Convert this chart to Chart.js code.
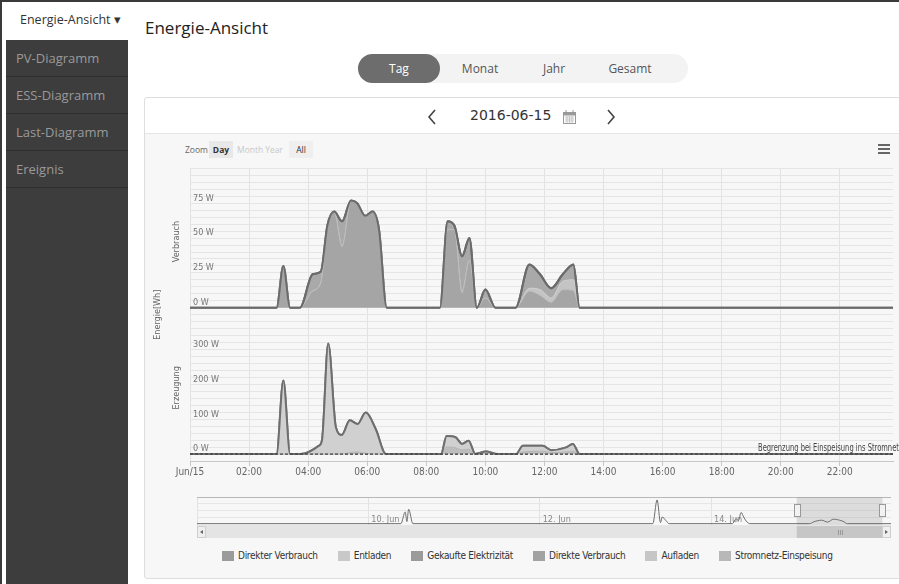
<!DOCTYPE html>
<html lang="de">
<head>
<meta charset="utf-8">
<title>Energie-Ansicht</title>
<script src="https://cdn.jsdelivr.net/npm/chart.js@4.4.1/dist/chart.umd.min.js"></script>
<style>
  html, body { margin: 0; padding: 0; }
  body { width: 899px; height: 584px; overflow: hidden; position: relative; background: #fff;
         font-family: "Open Sans", "Noto Sans", sans-serif; }
  .rahmen { position: absolute; left: 0; top: 0; width: 899px; height: 584px; box-sizing: border-box;
            border-left: 2px solid #3a3a3a; border-top: 2px solid #3a3a3a; pointer-events: none; z-index: 9; }
  .seitenleiste { position: absolute; left: 6px; top: 0; width: 122px; height: 584px; background: #3d3d3d; }
  .seitenleiste .kopf { height: 40px; background: #fff; color: #333; font-size: 12.5px; line-height: 40px; padding-left: 14px; }
  .seitenleiste .punkt { height: 36px; line-height: 36px; color: #9a9a9a; font-size: 13px; padding-left: 10px;
                         border-bottom: 1px solid #2e2e2e; }
  h1 { position: absolute; left: 145px; top: 16px; margin: 0; font-weight: normal; font-size: 17px; color: #222; }
  .reiter { position: absolute; left: 358px; top: 54px; width: 330px; height: 29px; background: #f3f3f3; border-radius: 15px; }
  .reiter span { position: absolute; top: 0; line-height: 29px; font-size: 12px; color: #555; transform: translateX(-50%); }
  .reiter span.aktiv { left: 0; width: 82px; background: #6d6d6d; color: #fff; border-radius: 15px; text-align: center; transform: none; }
  .karte { position: absolute; left: 144px; top: 97px; width: 770px; height: 480px; border: 1px solid #dedede;
           border-radius: 3px; background: #f7f7f7; }
  .karte .kopf { height: 35px; background: #fff; border-bottom: 1px solid #e6e6e6; border-radius: 3px 3px 0 0; }
  .datum { position: absolute; left: 470px; top: 107px; font-size: 14px; color: #333; font-family: "DejaVu Sans", sans-serif; }
  .pfeil { position: absolute; top: 109px; }
  .zoom { position: absolute; top: 141px; height: 17px; line-height: 17px; font-size: 8.5px; color: #666; text-align: center; white-space: nowrap; }
  .zoom.knopf { background: #e8e8e8; color: #333; font-weight: bold; }
  .zoom.blass { color: #c8c8c8; }
  .zoom.alle { background: #efefef; color: #333; }
  .menue { position: absolute; left: 878px; top: 144px; width: 12px; }
  .menue i { display: block; height: 2px; background: #666; margin-bottom: 2px; }
  .haupt { position: absolute; left: 150px; top: 160px; width: 749px; height: 318px; }
  .navi { position: absolute; left: 197px; top: 497px; width: 694px; height: 41px; }
  .legende { position: absolute; left: 222px; top: 550px; display: flex; font-size: 10px; color: #333; white-space: nowrap; letter-spacing: -0.3px; }
  .legende div { display: flex; align-items: center; margin-right: 20px; }
  .legende b { display: inline-block; width: 12px; height: 10px; margin-right: 4px; }
</style>
</head>
<body>
<div class="rahmen"></div>
<div class="seitenleiste">
  <div class="kopf">Energie-Ansicht &#9662;</div>
  <div class="punkt">PV-Diagramm</div>
  <div class="punkt">ESS-Diagramm</div>
  <div class="punkt">Last-Diagramm</div>
  <div class="punkt">Ereignis</div>
</div>
<h1>Energie-Ansicht</h1>
<div class="reiter">
  <span class="aktiv">Tag</span>
  <span style="left:122px">Monat</span>
  <span style="left:196px">Jahr</span>
  <span style="left:272px">Gesamt</span>
</div>
<div class="karte"><div class="kopf"></div></div>
<svg class="pfeil" style="left:427px" width="10" height="16"><polyline points="8,1 2,8 8,15" fill="none" stroke="#444" stroke-width="1.6"/></svg>
<div class="datum">2016-06-15</div>
<svg class="pfeil" style="left:563px;top:110px" width="13" height="14">
  <rect x="0.5" y="2.5" width="12" height="11" fill="#fff" stroke="#999"/>
  <rect x="0.5" y="2.5" width="12" height="3" fill="#999"/>
  <line x1="3" y1="0" x2="3" y2="3" stroke="#999"/><line x1="10" y1="0" x2="10" y2="3" stroke="#999"/>
  <path d="M2 7h9M2 9h9M2 11h9M4 6v7M6.5 6v7M9 6v7" stroke="#bbb" stroke-width="0.8"/>
</svg>
<svg class="pfeil" style="left:606px" width="10" height="16"><polyline points="2,1 8,8 2,15" fill="none" stroke="#444" stroke-width="1.6"/></svg>

<div class="zoom" style="left:185px;width:22px">Zoom</div>
<div class="zoom knopf" style="left:209px;width:24px">Day</div>
<div class="zoom blass" style="left:237px;width:24px">Month</div>
<div class="zoom blass" style="left:263px;width:22px">Year</div>
<div class="zoom alle" style="left:289px;width:24px">All</div>
<div class="menue"><i></i><i></i><i></i></div>

<div class="haupt"><canvas id="hauptDiagramm"></canvas></div>
<div class="navi"><canvas id="navigator"></canvas></div>
<div class="legende" id="legende"></div>

<script>
// Verbrauch (oberes Feld), Zeit in Stunden
const zeitVerbrauch = [0, 2.93, 3.16, 3.39, 3.72, 4.15, 4.43, 4.65, 4.88, 5.15, 5.45, 5.66, 5.93, 6.18, 6.4, 6.66,
                       8.46, 8.72, 8.95, 9.21, 9.46, 9.71, 10.0, 10.34, 11.02, 11.49, 11.85, 12.23, 12.62, 12.98, 13.19, 23.8];
const direkterVerbrauch = [0, 0, 30, 0, 0, 12, 18, 59, 69, 44, 77, 75, 66, 69, 56, 0,
                           0, 56, 56, 11, 34, 0, 7, 0, 0, 12, 9, 4, 13, 12.5, 0, 0];
const entladen = [0, 0, 0, 0, 0, 0, 0, 0, 0, 0, 0, 0, 0, 0, 0, 0,
                  0, 0, 0, 0, 0, 0, 0, 0, 0, 2, 4, 3, 6, 7.5, 0, 0];
const gekaufteElektrizitaet = [0, 0, 0, 0, 0, 12, 8, 0, 0, 18, 0, 0, 0, 0, 0, 0,
                               0, 6, 3, 26, 16, 0, 6, 0, 0, 17, 11, 7, 5, 11, 0, 0];

// Erzeugung (unteres Feld)
const zeitErzeugung = [0, 2.93, 3.16, 3.39, 3.75, 4.37, 4.47, 4.68, 4.94, 5.14, 5.41, 5.67, 5.95, 6.29, 6.63,
                       8.5, 8.69, 8.98, 9.21, 9.43, 9.66, 10.02, 10.4, 11.04, 11.27, 11.94, 12.23, 12.74, 12.96, 13.19, 23.8];
const direkteVerbrauch = [0, 0, 0, 0, 0, 0, 0, 0, 0, 0, 4, 6, 2, 0, 0,
                          0, 20, 18, 12, 14, 0, 2, 0, 0, 6, 8, 4, 6, 8, 0, 0];
const aufladen = [0, 0, 211, 0, 0, 24, 40, 317, 76, 55, 93, 80, 117, 71, 0,
                  0, 32, 31, 17, 24, 0, 5, 0, 0, 18, 16, 7, 13, 21, 0, 0];
const einspeisung = [0, 0, 0, 0, 0, 0, 0, 0, 0, 0, 0, 0, 0, 0, 0,
                     0, 0, 0, 0, 0, 0, 0, 0, 0, 0, 0, 0, 0, 0, 0, 0];
const begrenzungWert = 0;

const serienNamen = ['Direkter Verbrauch', 'Entladen', 'Gekaufte Elektrizität',
                     'Direkte Verbrauch', 'Aufladen', 'Stromnetz-Einspeisung'];
const legendenFarben = ['#9b9b9b', '#c9c9c9', '#9b9b9b', '#a2a2a2', '#c6c6c6', '#b8b8b8'];

// Navigator: Tage seit 8. Juni
const navTage = [0, 2.38, 2.43, 2.45, 2.47, 2.52, 5.32, 5.37, 5.41, 5.43, 5.47, 5.51,
                 6.25, 6.29, 6.32, 6.35, 6.38, 6.41, 6.45, 7.15, 7.2, 7.29, 7.36, 7.43, 7.5, 7.54, 7.59, 8.1];
const navWerte = [0, 0, 44, 8, 54, 0, 0, 89, 4, 25, 13, 0,
                  0, 18, 12, 42, 25, 10, 0, 0, 7, 13, 6, 17, 13, 9, 0, 0];
const navBeschriftung = ['10. Jun', '12. Jun', '14. Jun'];
const navBeschriftungTage = [2, 4, 6];
const auswahlStart = 7;
const auswahlEnde = 8;

const schrift = '"DejaVu Sans Condensed", "Liberation Sans Narrow", Roboto, sans-serif';
Chart.defaults.font.family = schrift;

function punkte(xs, ys) {
    return xs.map((x, i) => ({ x: x, y: ys[i] }));
}

function stundenText(v) {
    if (v === 0) return 'Jun/15';
    return String(v).padStart(2, '0') + ':00';
}

const zusatz = {
    id: 'zusatz',
    afterDatasetsDraw(chart) {
        const ctx = chart.ctx;
        const area = chart.chartArea;
        // Umrisslinien oben nochmal zeichnen
        ctx.save();
        ctx.beginPath();
        ctx.rect(area.left, area.top - 2, area.right - area.left, area.bottom - area.top + 4);
        ctx.clip();
        [2, 5, 6].forEach(i => chart.getDatasetMeta(i).dataset.draw(ctx, area));
        ctx.restore();

        const yV = chart.scales.yV;
        const yE = chart.scales.yE;
        ctx.save();
        // schmale Schrift nachgebildet
        ctx.fillStyle = '#444';
        ctx.font = '10px ' + schrift;
        ctx.textBaseline = 'bottom';
        ctx.translate(area.right - 135, yE.getPixelForValue(begrenzungWert) - 1);
        ctx.scale(0.75, 1);
        ctx.fillText('Begrenzung bei Einspeisung ins Stromnetz', 0, 0);
        ctx.restore();

        ctx.save();
        ctx.fillStyle = '#666';
        ctx.font = '9px ' + schrift;
        ctx.textAlign = 'center';
        ctx.textBaseline = 'middle';
        const titel = [['Verbrauch', area.left - 13, (yV.top + yV.bottom) / 2],
                       ['Erzeugung', area.left - 13, (yE.top + yE.bottom) / 2],
                       ['Energie[Wh]', area.left - 32, yV.bottom]];
        titel.forEach(([t, x, y]) => {
            ctx.save();
            ctx.translate(x, y);
            ctx.rotate(-Math.PI / 2);
            ctx.fillText(t, 0, 0);
            ctx.restore();
        });
        ctx.restore();
    }
};

const yTicks = (schritt, max) => ({
    stepSize: schritt,
    autoSkip: false,
    mirror: true,
    padding: 3,
    labelOffset: -5,
    color: '#777',
    font: { size: 9 },
    callback: v => (v >= 0 && v < max && v % (schritt * 5) === 0) ? v + ' W' : ''
});

new Chart(document.getElementById('hauptDiagramm'), {
    type: 'line',
    data: {
        datasets: [
            { label: serienNamen[0], data: punkte(zeitVerbrauch, direkterVerbrauch), yAxisID: 'yV',
              fill: 'origin', backgroundColor: '#a5a5a5', borderColor: '#bcbcbc', borderWidth: 1 },
            { label: serienNamen[1], data: punkte(zeitVerbrauch, entladen), yAxisID: 'yV',
              fill: '-1', backgroundColor: '#c4c4c4', borderColor: '#cccccc', borderWidth: 1 },
            { label: serienNamen[2], data: punkte(zeitVerbrauch, gekaufteElektrizitaet), yAxisID: 'yV',
              fill: '-1', backgroundColor: '#a9a9a9', borderColor: '#6b6b6b', borderWidth: 2 },
            { label: serienNamen[3], data: punkte(zeitErzeugung, direkteVerbrauch), yAxisID: 'yE',
              fill: 'origin', backgroundColor: '#bdbdbd', borderColor: '#b4b4b4', borderWidth: 1 },
            { label: serienNamen[4], data: punkte(zeitErzeugung, aufladen), yAxisID: 'yE',
              fill: '-1', backgroundColor: '#d0d0d0', borderColor: '#c4c4c4', borderWidth: 1 },
            { label: serienNamen[5], data: punkte(zeitErzeugung, einspeisung), yAxisID: 'yE',
              fill: '-1', backgroundColor: '#c6c6c6', borderColor: '#6e6e6e', borderWidth: 2 },
            { label: 'Begrenzung', yAxisID: 'yE', stack: 'grenze', fill: false,
              data: [{ x: zeitErzeugung[0], y: begrenzungWert }, { x: zeitErzeugung[zeitErzeugung.length - 1], y: begrenzungWert }],
              borderColor: '#333', borderWidth: 1, borderDash: [3, 2] }
        ]
    },
    options: {
        animation: false,
        responsive: true,
        maintainAspectRatio: false,
        layout: { padding: { left: 34, top: 5, right: 6, bottom: 0 } },
        elements: {
            point: { radius: 0 },
            line: { cubicInterpolationMode: 'monotone' }
        },
        plugins: { legend: { display: false }, tooltip: { enabled: false } },
        scales: {
            x: {
                type: 'linear', min: 0, max: 23.8,
                ticks: { stepSize: 2, includeBounds: false, maxRotation: 0, autoSkip: false, padding: 0,
                         color: '#666', font: { size: 10 }, callback: stundenText },
                grid: { color: '#e2e2e2', tickLength: 5, tickColor: '#c8c8c8' },
                border: { color: '#c8c8c8' }
            },
            yE: {
                type: 'linear', position: 'left', stack: 'felder', stackWeight: 1, stacked: true,
                min: -20, max: 400,
                ticks: yTicks(20, 400),
                grid: { color: '#e5e5e5', drawTicks: false },
                border: { display: false }
            },
            yV: {
                type: 'linear', position: 'left', stack: 'felder', stackWeight: 1, stacked: true,
                min: -5, max: 100,
                ticks: yTicks(5, 100),
                grid: { color: '#e5e5e5', drawTicks: false },
                border: { display: false }
            }
        }
    },
    plugins: [zusatz]
});

const naviZusatz = {
    id: 'naviZusatz',
    beforeDatasetsDraw(chart) {
        const ctx = chart.ctx;
        const a = chart.chartArea;
        const x = chart.scales.x;
        ctx.save();
        ctx.fillStyle = 'rgba(150,150,150,0.28)';
        ctx.fillRect(x.getPixelForValue(auswahlStart), a.top, x.getPixelForValue(auswahlEnde) - x.getPixelForValue(auswahlStart), a.bottom - a.top);
        ctx.fillStyle = '#888';
        ctx.font = '9px ' + schrift;
        ctx.textBaseline = 'bottom';
        navBeschriftung.forEach((t, i) => ctx.fillText(t, x.getPixelForValue(navBeschriftungTage[i]) + 3, a.bottom - 1));
        ctx.restore();
    },
    afterDraw(chart) {
        const ctx = chart.ctx;
        const a = chart.chartArea;
        const x = chart.scales.x;
        const x0 = x.getPixelForValue(auswahlStart);
        const x1 = x.getPixelForValue(auswahlEnde);
        const sy = a.bottom + 1;
        ctx.save();
        // Bildlaufleiste
        ctx.fillStyle = '#e4e4e4';
        ctx.fillRect(a.left, sy, a.right - a.left, 12);
        ctx.fillStyle = '#c6c6c6';
        ctx.fillRect(x0, sy, x1 - x0, 12);
        ctx.strokeStyle = '#999';
        ctx.lineWidth = 1;
        [-2, 0, 2].forEach(d => {
            ctx.beginPath();
            ctx.moveTo(Math.round((x0 + x1) / 2) + d + 0.5, sy + 4);
            ctx.lineTo(Math.round((x0 + x1) / 2) + d + 0.5, sy + 9);
            ctx.stroke();
        });
        [[a.left, 1], [a.right - 9, -1]].forEach(([bx, r]) => {
            ctx.fillStyle = '#efefef';
            ctx.fillRect(bx, sy, 9, 12);
            ctx.strokeStyle = '#cfcfcf';
            ctx.strokeRect(bx + 0.5, sy + 0.5, 8, 11);
            ctx.fillStyle = '#666';
            ctx.beginPath();
            ctx.moveTo(bx + 4.5 - r * 1.5, sy + 6);
            ctx.lineTo(bx + 4.5 + r * 1.5, sy + 4);
            ctx.lineTo(bx + 4.5 + r * 1.5, sy + 8);
            ctx.fill();
        });
        // Griffe
        [x0, x1].forEach(hx => {
            ctx.fillStyle = '#f2f2f2';
            ctx.fillRect(Math.round(hx) - 3, a.top + 7, 7, 13);
            ctx.strokeStyle = '#999';
            ctx.strokeRect(Math.round(hx) - 3 + 0.5, a.top + 7.5, 6, 12);
        });
        ctx.restore();
    }
};

new Chart(document.getElementById('navigator'), {
    type: 'line',
    data: {
        datasets: [{ data: punkte(navTage, navWerte), borderColor: '#6e6e6e', borderWidth: 1, pointRadius: 0,
                     fill: false, cubicInterpolationMode: 'monotone' }]
    },
    options: {
        animation: false,
        responsive: true,
        maintainAspectRatio: false,
        layout: { padding: { bottom: 13 } },
        plugins: { legend: { display: false }, tooltip: { enabled: false } },
        scales: {
            x: { type: 'linear', min: 0, max: 8.1, ticks: { display: false, stepSize: 2 },
                 grid: { color: '#e2e2e2', drawTicks: false }, border: { display: false } },
            y: { min: -5, max: 100, ticks: { display: false, stepSize: 25 },
                 grid: { color: c => c.tick.value === 100 ? '#b8b8b8' : '#e6e6e6', drawTicks: false },
                 border: { display: false } }
        }
    },
    plugins: [naviZusatz]
});

const legende = document.getElementById('legende');
serienNamen.forEach((name, i) => {
    const eintrag = document.createElement('div');
    eintrag.innerHTML = `<b style="background:${legendenFarben[i]}"></b>${name}`;
    eintrag.style.fontFamily = schrift;
    legende.appendChild(eintrag);
});
</script>
</body>
</html>
